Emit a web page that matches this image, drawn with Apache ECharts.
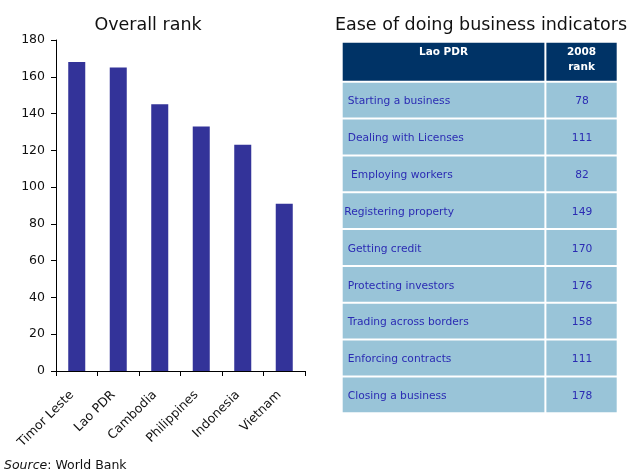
<!DOCTYPE html>
<html>
<head>
<meta charset="utf-8">
<script src="https://cdn.jsdelivr.net/npm/echarts@6/dist/echarts.min.js"></script>
<style>html,body{margin:0;padding:0;background:#fff}#main{width:637px;height:475px}</style>
</head>
<body>
<div id="main"></div>
<script>
// Bar chart data
var countries = ['Timor Leste', 'Lao PDR', 'Cambodia', 'Philippines', 'Indonesia', 'Vietnam'];
var overallRank = [168, 165, 145, 133, 123, 91];
var yTicks = [0, 20, 40, 60, 80, 100, 120, 140, 160, 180];

// Table data
var tableHeader = ['Lao PDR', '2008\nrank'];
var indicators = [' Starting a business', ' Dealing with Licenses', '  Employing workers', 'Registering property',
  ' Getting credit', ' Protecting investors', ' Trading across borders', ' Enforcing contracts', ' Closing a business'];
var indicatorRanks = [78, 111, 82, 149, 170, 176, 158, 111, 178];

var FONT = 'DejaVu Sans';
var colSplit = 0.738;
var headerSpan = 1.086;

// Build table cells: [col, row, text, isHeader]  (row -1 = header)
var cells = [];
cells.push([0, -1, tableHeader[0], 1]);
cells.push([1, -1, tableHeader[1], 1]);
for (var i = 0; i < indicators.length; i++) {
  cells.push([0, i, indicators[i], 0]);
  cells.push([1, i, String(indicatorRanks[i]), 0]);
}

var chart = echarts.init(document.getElementById('main'), null, {renderer: 'canvas'});
chart.setOption({
  animation: false,
  backgroundColor: '#ffffff',
  title: [
    {text: 'Overall rank', left: 143, top: 20, textAlign: 'center', textVerticalAlign: 'middle',
      textStyle: {fontFamily: FONT, fontSize: 17.5, fontWeight: 'normal', color: '#111'}},
    {text: 'Ease of doing business indicators', left: 476, top: 20, textAlign: 'center', textVerticalAlign: 'middle',
      textStyle: {fontFamily: FONT, fontSize: 17.5, fontWeight: 'normal', color: '#111'}}
  ],
  grid: [
    {left: 56, top: 40, width: 249, height: 331, containLabel: false},
    {left: 341.7, top: 81.7, width: 276, height: 331.6, containLabel: false}
  ],
  xAxis: [
    {gridIndex: 0, type: 'category', data: countries,
      axisLine: {lineStyle: {color: '#000', width: 1}},
      axisTick: {show: true, alignWithLabel: false, length: 5, lineStyle: {color: '#000'}},
      axisLabel: {rotate: 45, margin: 17, padding: [0, 7, 0, 0], fontFamily: FONT, fontSize: 12.5, color: '#111', interval: 0},
      splitLine: {show: false}},
    {gridIndex: 1, type: 'value', min: 0, max: 1, show: false}
  ],
  yAxis: [
    {gridIndex: 0, type: 'value', min: 0, max: 180, interval: 20,
      axisLine: {show: true, lineStyle: {color: '#000', width: 1}},
      axisTick: {show: true, length: 5, lineStyle: {color: '#000'}},
      axisLabel: {margin: 11, fontFamily: FONT, fontSize: 12.5, color: '#111',
        formatter: function (v) { return yTicks.indexOf(v) >= 0 ? String(v) : ''; }},
      splitLine: {show: false}},
    {gridIndex: 1, type: 'value', min: 0, max: 9, inverse: true, show: false}
  ],
  series: [
    {type: 'bar', xAxisIndex: 0, yAxisIndex: 0, data: overallRank, barWidth: '41%',
      itemStyle: {color: '#333399'}},
    {type: 'custom', xAxisIndex: 1, yAxisIndex: 1, data: cells, clip: false,
      renderItem: function (params, api) {
        var col = api.value(0), row = api.value(1);
        var text = cells[params.dataIndex][2];
        var isHeader = cells[params.dataIndex][3] === 1;
        var xa = col === 0 ? 0 : colSplit, xb = col === 0 ? colSplit : 1;
        var ya = isHeader ? -headerSpan : row, yb = isHeader ? 0 : row + 1;
        var p0 = api.coord([xa, ya]);
        var p1 = api.coord([xb, yb]);
        var x = p0[0] + 1, y = p0[1] + 1, w = p1[0] - p0[0] - 2, h = p1[1] - p0[1] - 2;
        var textEl;
        if (isHeader) {
          textEl = {type: 'text', style: {text: text, x: x + w / 2, y: y + 1.5, align: 'center', verticalAlign: 'top',
            fill: '#ffffff', font: 'bold 10.5px "' + FONT + '"', lineHeight: 15.3}};
        } else if (col === 0) {
          textEl = {type: 'text', style: {text: text, x: x + 1.6, y: y + h / 2 + 1.5, align: 'left', verticalAlign: 'middle',
            fill: '#2b2bb3', font: '10.7px "' + FONT + '"'}};
        } else {
          textEl = {type: 'text', style: {text: text, x: x + w / 2 + 0.5, y: y + h / 2 + 1.5, align: 'center', verticalAlign: 'middle',
            fill: '#2b2bb3', font: '10.7px "' + FONT + '"'}};
        }
        return {type: 'group', children: [
          {type: 'rect', shape: {x: x, y: y, width: w, height: h},
            style: {fill: isHeader ? '#003366' : '#99c4d8'}},
          textEl
        ]};
      }}
  ],
  graphic: [
    {type: 'text', left: 4, top: 459,
      style: {text: '{i|Source}: World Bank', font: '12.5px "' + FONT + '"', fill: '#111',
        rich: {i: {fontStyle: 'italic', fontFamily: FONT, fontSize: 12.5, fill: '#111'}}}}
  ]
});
</script>
</body>
</html>
